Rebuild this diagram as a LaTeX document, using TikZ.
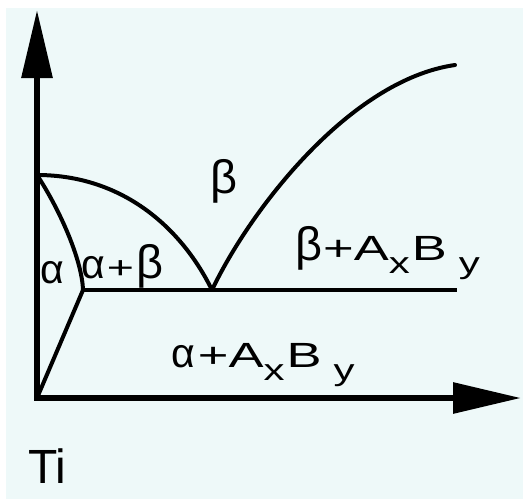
\documentclass[tikz,border=0pt]{standalone}
\usepackage{fontspec}
\usepackage{graphicx}
\setmainfont{Liberation Sans}
\definecolor{panel}{RGB}{238, 249, 249}
\usetikzlibrary{arrows.meta}
\newcommand{\wide}[1]{\scalebox{1.5}[1]{#1}}
\newcommand{\sub}[1]{\raisebox{-13pt}{\fontsize{30}{32}\selectfont\scalebox{1.4}[1]{#1}}}
\newcommand{\alp}{{\fontsize{41}{43}\selectfont α}}
\newcommand{\bet}{{\fontsize{47}{49}\selectfont β}}

\begin{document}
\begin{tikzpicture}[x=1pt, y=-1pt,
    axis/.style={line width=6pt, -{Triangle[length=68pt, width=30pt]}},
    phase/.style={line width=4pt, line cap=round, line join=round},
    lbl/.style={anchor=base west, inner sep=0pt, font=\fontsize{35}{37}\selectfont}
  ]
    \useasboundingbox (0,0) rectangle (523,499);
    \fill[panel] (6,8) rectangle (523,499);

    % axes
    \coordinate (o) at (37,398);
    \coordinate (ytop) at (37,10);
    \coordinate (xend) at (521,398);
    \draw[axis] ([yshift=3pt]o) -- (ytop);
    \draw[axis] ([xshift=-3pt]o) -- (xend);

    % phase boundaries
    \coordinate (top) at (37,175);
    \coordinate (eut) at (212,290);
    \coordinate (crn) at (83,290);
    \coordinate (lend) at (457,290);
    \coordinate (cend) at (455,65);

    \draw[phase] (top) .. controls (120,175) and (180,225) .. (eut);
    \draw[phase] (eut) .. controls (250,210) and (350,80) .. (cend);
    \draw[phase] (top) .. controls (60,210) and (82,260) .. (crn);
    \draw[phase] (crn) -- (o);
    \draw[phase, line cap=butt] (crn) -- (lend);

    % labels
    \node[lbl] (alpha) at (40,283) {\alp};
    \node[lbl] (ab) at (81,278) {\alp\kern2pt{\fontsize{31}{33}\selectfont\wide{+}}\kern2pt\bet};
    \node[lbl] (beta) at (210,193) {\bet};
    \node[lbl] (bab) at (295,260) {\bet\kern1pt\wide{+A}\sub{x}\kern2pt\wide{B}\kern12pt\sub{y}};
    \node[lbl] (aab) at (171,367) {\alp\kern3pt\wide{+A}\sub{x}\kern2pt\wide{B}\kern12pt\sub{y}};
    \node[lbl, font=\fontsize{48}{50}\selectfont] (ti) at (28,483) {Ti};
\end{tikzpicture}
\end{document}
